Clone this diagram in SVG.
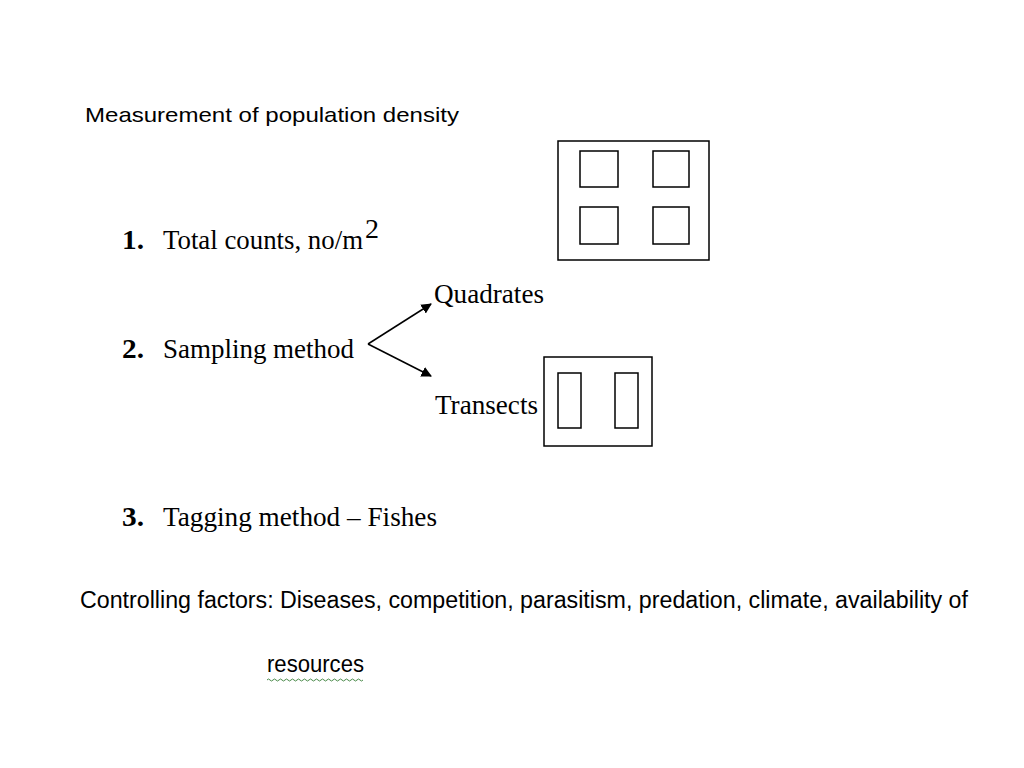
<svg xmlns="http://www.w3.org/2000/svg" width="1024" height="768" viewBox="0 0 1024 768">
<style>
.s{font-family:"Liberation Sans",Arial,sans-serif;fill:#000}
.t{font-family:"Liberation Serif","Times New Roman",serif;font-size:28px;fill:#000}
.b{fill:none;stroke:#000;stroke-width:1.5}
</style>
<defs><marker id="a" viewBox="0 0 10 10" refX="9" refY="5" markerWidth="7" markerHeight="7" orient="auto"><path d="M0,0L10,5L0,10z" fill="#000"/></marker></defs>
<rect width="1024" height="768" fill="#fff"/>
<text class="s" x="85" y="122" font-size="21" textLength="374" lengthAdjust="spacingAndGlyphs">Measurement  of population density</text>
<g id="n1"><text class="t" x="122" y="249" font-weight="bold" textLength="22" lengthAdjust="spacingAndGlyphs">1.</text><text class="t" x="163" y="249" textLength="200" lengthAdjust="spacingAndGlyphs">Total counts, no/m</text><text class="t" x="365" y="238" font-size="17">2</text></g>
<g id="quad"><rect class="b" x="558" y="141" width="151" height="119"/><rect class="b" x="580" y="151" width="38" height="36"/><rect class="b" x="653" y="151" width="36" height="36"/><rect class="b" x="580" y="207" width="38" height="37"/><rect class="b" x="653" y="207" width="36" height="37"/></g>
<g id="n2"><text class="t" x="122" y="358" font-weight="bold" textLength="22" lengthAdjust="spacingAndGlyphs">2.</text><text class="t" x="163" y="358" textLength="191" lengthAdjust="spacingAndGlyphs">Sampling method</text></g>
<g id="q"><text class="t" x="434" y="303" textLength="110" lengthAdjust="spacingAndGlyphs">Quadrates</text></g>
<g id="tr"><text class="t" x="435" y="414" textLength="103" lengthAdjust="spacingAndGlyphs">Transects</text><rect class="b" x="544" y="357" width="108" height="89"/><rect class="b" x="558" y="373" width="23" height="55"/><rect class="b" x="615" y="373" width="23" height="55"/></g>
<g id="connectors"><path class="b" d="M368,344L431,304" marker-end="url(#a)"/><path class="b" d="M368,344L431,376" marker-end="url(#a)"/></g>
<g id="n3"><text class="t" x="122" y="526" font-weight="bold" textLength="22" lengthAdjust="spacingAndGlyphs">3.</text><text class="t" x="163" y="526" textLength="274" lengthAdjust="spacingAndGlyphs">Tagging method – Fishes</text></g>
<text class="s" x="80" y="608" font-size="23" textLength="888" lengthAdjust="spacingAndGlyphs">Controlling factors: Diseases, competition, parasitism, predation, climate, availability of</text>
<text class="s" x="267" y="672" font-size="23" textLength="97" lengthAdjust="spacingAndGlyphs">resources</text>
<path d="M267,680 q1.5,-2 3,0 t3,0 t3,0 t3,0 t3,0 t3,0 t3,0 t3,0 t3,0 t3,0 t3,0 t3,0 t3,0 t3,0 t3,0 t3,0 t3,0 t3,0 t3,0 t3,0 t3,0 t3,0 t3,0 t3,0 t3,0 t3,0 t3,0 t3,0 t3,0 t3,0 t3,0 t3,0" fill="none" stroke="#4a8a4a" stroke-width="1"/>
</svg>
